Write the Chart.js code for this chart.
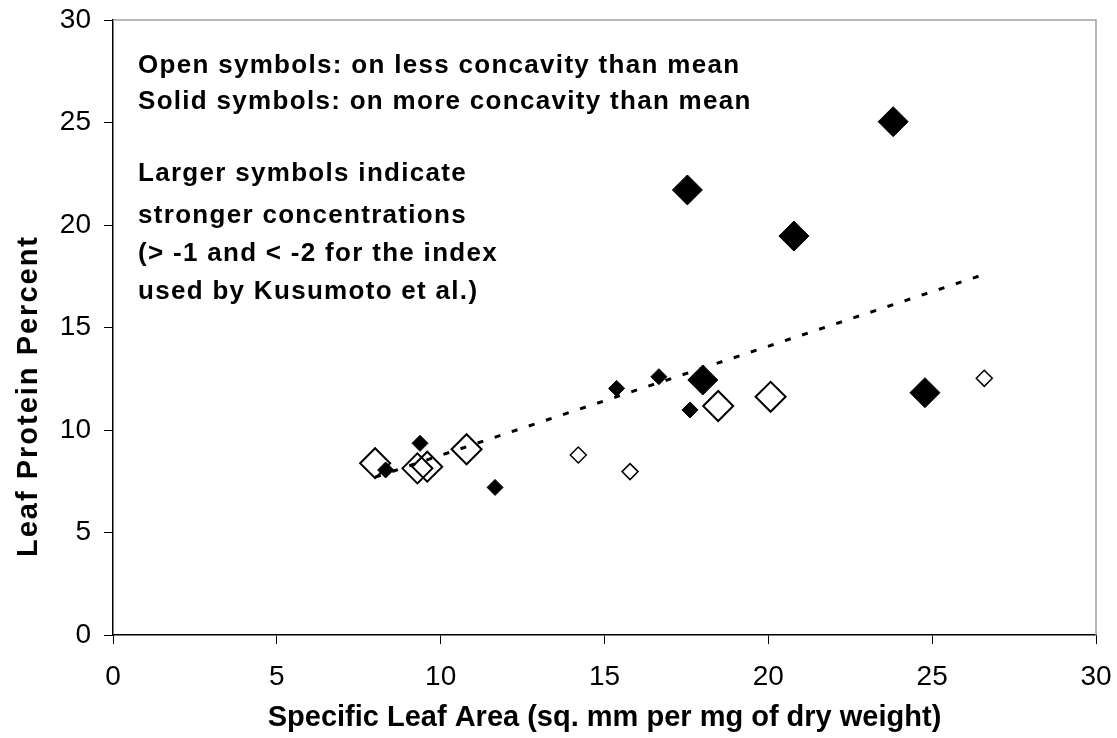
<!DOCTYPE html>
<html>
<head>
<meta charset="utf-8">
<script src="https://cdn.jsdelivr.net/npm/chart.js@4.4.0/dist/chart.umd.min.js"></script>
<style>
  html, body { margin: 0; padding: 0; background: #fff; }
  #wrap { width: 1117px; height: 738px; }
</style>
</head>
<body>
<div id="wrap"><canvas id="grafico"></canvas></div>
<script>
// valores
const solidLargeX = [17.53, 23.81, 20.78, 18.0, 24.78];
const solidLargeY = [21.71, 25.04, 19.46, 12.44, 11.82];
const solidSmallX = [9.37, 8.32, 11.66, 15.37, 16.66, 17.61];
const solidSmallY = [9.35, 8.05, 7.2, 12.03, 12.6, 10.98];
const openLargeX = [8.0, 9.29, 9.59, 10.79, 18.47, 20.07];
const openLargeY = [8.38, 8.13, 8.21, 9.06, 11.17, 11.62];
const openSmallX = [14.2, 15.78, 26.59];
const openSmallY = [8.78, 7.97, 12.52];
const trendX = [8.0, 26.6];
const trendY = [7.7, 17.6];
const xTicks = [0, 5, 10, 15, 20, 25, 30];
const yTicks = [0, 5, 10, 15, 20, 25, 30];

const notas = [
	'Open symbols: on less concavity than mean',
	'Solid symbols: on more concavity than mean',
	'Larger symbols indicate',
	'stronger concentrations',
	'(> -1 and < -2 for the index',
	'used by Kusumoto et al.)'
];
const tituloY = 'Leaf Protein Percent';

const fonte = '"Liberation Sans", Arial, sans-serif';

function pontos(xs, ys) {
	return xs.map((x, i) => ({ x: x, y: ys[i] }));
}

const notasPlugin = {
	id: 'notas',
	afterDatasetsDraw(chart) {
		const ctx = chart.ctx;
		const linhasY = [73, 109, 181, 223, 261, 299];
		ctx.save();
		ctx.fillStyle = '#000';
		ctx.font = 'bold 26px ' + fonte;
		ctx.letterSpacing = '1.3px';
		ctx.textBaseline = 'alphabetic';
		notas.forEach((linha, i) => {
			ctx.fillText(linha, 138, linhasY[i]);
		});
		ctx.restore();

		// titulo do eixo Y
		ctx.save();
		ctx.fillStyle = '#000';
		ctx.font = 'bold 29px ' + fonte;
		ctx.letterSpacing = '2px';
		ctx.textAlign = 'center';
		ctx.textBaseline = 'middle';
		ctx.translate(29, 396);
		ctx.rotate(-Math.PI / 2);
		ctx.fillText(tituloY, 0, 0);
		ctx.restore();
	}
};

const bordaPlugin = {
	id: 'borda',
	beforeDatasetsDraw(chart) {
		const a = chart.chartArea;
		const ctx = chart.ctx;
		ctx.save();
		ctx.strokeStyle = '#a0a0a0';
		ctx.lineWidth = 1.5;
		ctx.beginPath();
		ctx.moveTo(a.left, a.top);
		ctx.lineTo(a.right, a.top);
		ctx.lineTo(a.right, a.bottom);
		ctx.stroke();
		ctx.restore();
	}
};

const ctxGrafico = document.getElementById('grafico').getContext('2d');

new Chart(ctxGrafico, {
	type: 'scatter',
	data: {
		datasets: [
			{
				label: 'trend',
				type: 'line',
				data: pontos(trendX, trendY),
				borderColor: '#000',
				borderWidth: 3,
				borderDash: [6, 12],
				pointRadius: 0,
				fill: false,
				order: 0
			},
			{
				label: 'solid small',
				data: pontos(solidSmallX, solidSmallY),
				pointStyle: 'rectRot',
				pointRadius: 8,
				backgroundColor: '#000',
				borderColor: '#000',
				borderWidth: 1,
				order: 1
			},
			{
				label: 'solid large',
				data: pontos(solidLargeX, solidLargeY),
				pointStyle: 'rectRot',
				pointRadius: 15,
				backgroundColor: '#000',
				borderColor: '#000',
				borderWidth: 1,
				order: 2
			},
			{
				label: 'open small',
				data: pontos(openSmallX, openSmallY),
				pointStyle: 'rectRot',
				pointRadius: 8,
				backgroundColor: 'rgba(0,0,0,0)',
				borderColor: '#000',
				borderWidth: 1.5,
				order: 3
			},
			{
				label: 'open large',
				data: pontos(openLargeX, openLargeY),
				pointStyle: 'rectRot',
				pointRadius: 15,
				backgroundColor: 'rgba(0,0,0,0)',
				borderColor: '#000',
				borderWidth: 2,
				order: 4
			}
		]
	},
	options: {
		responsive: true,
		maintainAspectRatio: false,
		animation: false,
		layout: { padding: { top: 20, right: 21, left: 0, bottom: 0 } },
		scales: {
			x: {
				type: 'linear',
				min: 0,
				max: 30,
				afterFit: (s) => { s.height = 103; s.paddingLeft = 0; s.paddingRight = 0; },
				afterBuildTicks: (s) => { s.ticks = xTicks.map(v => ({ value: v })); },
				border: { display: true, color: '#000', width: 1.5 },
				grid: { drawOnChartArea: false, drawTicks: true, tickLength: 9, color: '#000', lineWidth: 1 },
				ticks: { color: '#000', font: { family: fonte, size: 28 }, padding: 16, maxRotation: 0 },
				title: {
					display: true,
					text: 'Specific Leaf Area (sq. mm per mg of dry weight)',
					color: '#000',
					font: { family: fonte, size: 29, weight: 'bold' },
					padding: { top: 0, bottom: 3 }
				}
			},
			y: {
				type: 'linear',
				min: 0,
				max: 30,
				afterFit: (s) => { s.width = 113; s.paddingTop = 0; s.paddingBottom = 0; },
				afterBuildTicks: (s) => { s.ticks = yTicks.map(v => ({ value: v })); },
				border: { display: true, color: '#000', width: 1.5 },
				grid: { drawOnChartArea: false, drawTicks: true, tickLength: 9, color: '#000', lineWidth: 1 },
				ticks: { color: '#000', font: { family: fonte, size: 28 }, padding: 13 }
			}
		},
		plugins: {
			legend: { display: false },
			tooltip: { enabled: false }
		}
	},
	plugins: [bordaPlugin, notasPlugin]
});
</script>
</body>
</html>
